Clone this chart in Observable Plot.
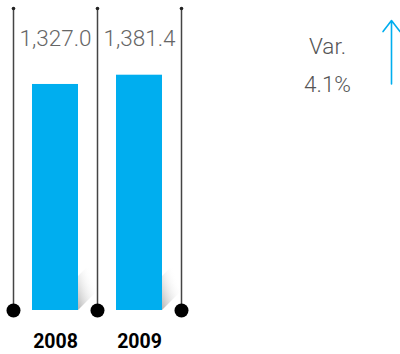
<!DOCTYPE html>
<html><head><meta charset="utf-8">
<script src="https://cdn.jsdelivr.net/npm/d3@7"></script>
<script src="https://cdn.jsdelivr.net/npm/@observablehq/plot@0.6"></script>
<style>body{margin:0;background:#fff} svg{display:block}</style>
</head><body><div id="chart"></div>
<script>
const years = [2008, 2009];
const values = [1327.0, 1381.4];
const variationLabel = "Var.";
const variation = 4.1;

const data = years.map((year, i) => ({year, value: values[i]}));
const bounds = [years[0] - 0.5, ...years.map(y => y + 0.5)];
const yMax = 1773;
const xMax = 2012;
const fmt = d3.format(",.1f");
const blue = "#00AEEF";
const inset = 19;

function shadows(index, {x, y}) {
  const g = d3.create("svg:g");
  const grad = g.append("defs").append("linearGradient").attr("id", "shade")
    .attr("x1", 0).attr("y1", 1).attr("x2", 0.9).attr("y2", 0.1);
  grad.append("stop").attr("offset", 0).attr("stop-color", "#999").attr("stop-opacity", 0.75);
  grad.append("stop").attr("offset", 0.7).attr("stop-color", "#fff").attr("stop-opacity", 0);
  for (const d of data) {
    const xr = x(d.year + 0.5) - inset, yb = y(0);
    const s = 22, h = 34;
    g.append("polygon")
      .attr("points", [[xr, yb], [xr + s, yb - s], [xr + s, yb - s - h], [xr, yb - h]].join(" "))
      .attr("fill", "url(#shade)");
  }
  return g.node();
}

const chart = Plot.plot({
  width: 400,
  height: 354,
  marginTop: 8,
  marginBottom: 44,
  marginLeft: 13,
  marginRight: 9,
  style: {fontFamily: "Roboto, 'Open Sans', sans-serif", background: "#fff"},
  x: {domain: [years[0] - 0.5, xMax], axis: null},
  y: {domain: [0, yMax], axis: null},
  marks: [
    shadows,
    Plot.rectY(data, {x1: d => d.year - 0.5, x2: d => d.year + 0.5, y: "value", insetLeft: inset, insetRight: inset, fill: blue}),
    Plot.ruleX(bounds, {x: d => d, y1: 0, y2: yMax, stroke: "#444", strokeWidth: 1.5}),
    Plot.dot(bounds, {x: d => d, y: yMax, r: 1.8, fill: "#222"}),
    Plot.dot(bounds, {x: d => d, y: 0, r: 7, fill: "#000"}),
    Plot.text(data, {x: "year", y: yMax, dy: 30, text: d => fmt(d.value), fontSize: 22.5, fontWeight: 300, fill: "#666"}),
    Plot.text(data, {x: "year", y: 0, dy: 31, text: d => String(d.year), fontSize: 19.5, fontWeight: "bold", fill: "#000"}),
    Plot.text([variationLabel], {frameAnchor: "top-right", textAnchor: "middle", dx: -64, dy: 30, text: d => d, fontSize: 22.5, fontWeight: 300, fill: "#555"}),
    Plot.text([variation], {frameAnchor: "top-right", textAnchor: "middle", dx: -64, dy: 68, text: d => d.toFixed(1) + "%", fontSize: 22.5, fontWeight: 300, fill: "#555"}),
    Plot.arrow([variation], {
      x1: xMax, x2: xMax,
      y1: d => d >= 0 ? yMax * 0.75 : yMax * 0.96,
      y2: d => d >= 0 ? yMax * 0.96 : yMax * 0.75,
      stroke: blue, strokeWidth: 1.6, headAngle: 75, headLength: 13
    })
  ]
});
document.getElementById("chart").append(chart);
</script>
</body></html>
